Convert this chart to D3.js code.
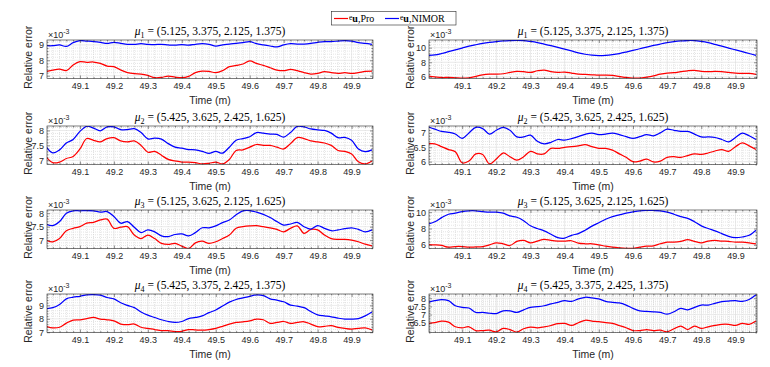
<!DOCTYPE html>
<html>
<head>
<meta charset="utf-8">
<script src="https://cdn.jsdelivr.net/npm/d3@7"></script>
<style>
  body { margin: 0; background: #fff; }
  svg { display: block; font-family: "Liberation Sans", Arial, sans-serif; }
</style>
</head>
<body>
<div id="chart"></div>
<script>
// asse dei tempi (m)
const time = [49.00, 49.02, 49.04, 49.06, 49.08, 49.10, 49.12, 49.14, 49.16, 49.18,
  49.20, 49.22, 49.24, 49.26, 49.28, 49.30, 49.32, 49.34, 49.36, 49.38,
  49.40, 49.42, 49.44, 49.46, 49.48, 49.50, 49.52, 49.54, 49.56, 49.58,
  49.60, 49.62, 49.64, 49.66, 49.68, 49.70, 49.72, 49.74, 49.76, 49.78,
  49.80, 49.82, 49.84, 49.86, 49.88, 49.90, 49.92, 49.94, 49.96];

const xTicks = [49.1, 49.2, 49.3, 49.4, 49.5, 49.6, 49.7, 49.8, 49.9];
const xLimits = [49.003, 49.963];

// parametri mu
const muValues = ["(5.125, 3.375, 2.125, 1.375)", "(5.425, 3.625, 2.425, 1.625)",
  "(5.125, 3.625, 2.125, 1.625)", "(5.425, 3.375, 2.425, 1.375)"];

// colonna sinistra (errori x 1e-3)
const proA1 = [7.26,7.37,7.43,7.33,7.7,7.91,7.87,7.89,7.8,7.63,7.59,7.37,7.2,7.13,7.11,7.02,6.87,6.89,6.98,6.91,6.87,6.96,7.2,7.3,7.28,7.2,7.33,7.59,7.67,7.76,7.96,7.8,7.67,7.52,7.37,7.33,7.41,7.33,7.2,7.11,7.15,7.26,7.2,7.15,7.2,7.15,7.2,7.28,7.3];
const nimorA1 = [8.95,8.95,9.0,8.9,9.15,9.28,9.25,9.22,9.17,9.1,9.17,9.1,9.04,9.04,9.08,9.04,9.02,9.04,9.0,8.98,9.02,8.98,9.04,9.08,9.04,8.93,9.0,9.06,9.1,9.15,9.22,9.08,9.0,8.93,8.87,9.0,9.08,9.06,9.06,9.1,9.17,9.22,9.22,9.25,9.28,9.25,9.15,9.1,9.04];
const proA2 = [7.12,6.92,6.94,7.06,7.13,7.38,7.73,7.67,7.62,7.73,7.76,7.65,7.62,7.65,7.5,7.27,7.3,7.17,7.03,6.98,6.94,6.94,6.92,6.88,6.9,6.94,6.88,7.03,7.33,7.35,7.44,7.53,7.5,7.5,7.44,7.38,7.56,7.76,7.73,7.65,7.62,7.58,7.5,7.33,7.3,7.21,6.95,6.88,6.98];
const nimorA2 = [7.47,7.25,7.35,7.58,7.7,7.97,8.14,8.08,7.99,8.12,8.12,8.03,8.03,8.06,7.93,7.72,7.74,7.71,7.56,7.44,7.41,7.36,7.35,7.3,7.23,7.3,7.24,7.44,7.67,7.73,7.79,7.93,7.91,7.88,7.87,7.78,7.93,8.14,8.12,8.05,8.02,8.0,7.91,7.76,7.77,7.67,7.38,7.29,7.35];
const proA3 = [7.0,6.94,7.06,7.35,7.44,7.5,7.63,7.66,7.75,7.78,7.44,7.48,7.5,7.19,7.06,7.19,7.06,6.88,6.84,6.88,6.78,6.69,6.9,6.96,6.88,6.94,7.06,7.19,7.44,7.5,7.53,7.54,7.5,7.46,7.4,7.31,7.44,7.53,7.25,7.4,7.38,7.19,7.06,7.03,7.03,7.0,6.94,6.85,6.79];
const nimorA3 = [7.59,7.54,7.69,8.0,8.09,8.09,8.1,8.09,8.04,8.06,7.88,7.63,7.69,7.48,7.28,7.38,7.31,7.16,7.13,7.21,7.23,7.16,7.28,7.46,7.46,7.53,7.65,7.75,7.94,8.09,8.1,8.04,7.96,7.84,7.69,7.56,7.6,7.66,7.5,7.41,7.54,7.44,7.35,7.38,7.43,7.46,7.4,7.31,7.38];
const proA4 = [7.44,7.32,7.37,7.68,7.9,7.93,8.02,8.1,7.98,7.93,7.85,7.61,7.56,7.61,7.37,7.29,7.2,7.12,7.12,7.05,7.07,7.2,7.17,7.15,7.2,7.29,7.44,7.61,7.73,7.78,7.85,7.98,7.93,7.66,7.73,7.8,7.66,7.73,7.78,7.61,7.41,7.44,7.49,7.37,7.29,7.24,7.29,7.32,7.17];
const nimorA4 = [8.76,8.83,9.07,9.49,9.61,9.68,9.78,9.8,9.76,9.59,9.49,9.2,9.0,8.83,8.51,8.27,8.1,7.93,7.8,7.73,7.8,8.02,8.1,8.22,8.46,8.66,8.95,9.24,9.44,9.56,9.68,9.78,9.73,9.49,9.39,9.27,9.02,8.95,8.83,8.54,8.29,8.22,8.15,8.05,7.98,7.98,8.02,8.22,8.51];

// colonna destra
const proB1 = [6.11,6.01,5.92,5.92,5.88,5.83,5.88,6.06,6.29,6.38,6.38,6.43,6.61,6.75,6.71,6.61,6.84,6.94,6.71,6.61,6.66,6.52,6.38,6.34,6.29,6.24,6.24,6.2,6.06,5.92,5.83,5.83,5.97,6.15,6.38,6.52,6.57,6.71,6.84,6.89,6.75,6.71,6.75,6.71,6.61,6.52,6.47,6.47,6.34];
const nimorB1 = [8.95,9.0,9.2,9.45,9.7,9.95,10.2,10.4,10.58,10.72,10.83,10.92,10.97,11.0,10.97,10.85,10.7,10.5,10.28,10.05,9.8,9.55,9.3,9.1,8.97,8.92,8.95,9.05,9.2,9.4,9.62,9.85,10.08,10.3,10.5,10.68,10.82,10.92,10.98,10.97,10.85,10.68,10.45,10.2,9.95,9.7,9.45,9.2,8.95];
const proB2 = [6.62,6.62,6.52,6.42,6.34,5.96,6.02,6.27,6.25,5.92,6.09,6.3,6.17,6.05,6.17,6.36,6.27,6.27,6.46,6.46,6.5,6.52,6.55,6.59,6.52,6.46,6.46,6.4,6.27,6.15,6.0,6.02,6.09,5.99,6.02,6.15,6.17,6.15,6.21,6.27,6.25,6.3,6.37,6.42,6.36,6.52,6.65,6.55,6.42];
const nimorB2 = [7.21,7.13,7.05,7.02,6.96,6.81,7.0,7.19,7.15,6.96,7.09,7.19,7.09,6.86,6.86,6.92,6.71,6.62,6.67,6.77,6.75,6.8,6.87,6.95,6.99,6.94,6.96,6.99,6.94,6.87,6.81,6.87,6.94,6.9,7.0,7.13,7.09,7.05,7.05,6.96,6.86,6.86,6.84,6.77,6.69,6.84,6.99,6.9,6.77];
const proB3 = [6.04,6.0,5.92,5.71,5.79,5.79,5.71,5.75,5.79,6.0,6.25,6.13,5.92,6.42,6.54,6.25,6.46,6.67,6.54,6.46,6.46,6.5,6.21,6.13,6.13,6.0,5.83,5.71,5.63,5.58,5.58,5.71,5.83,5.88,6.13,6.33,6.33,6.42,6.63,6.42,6.25,6.46,6.54,6.46,6.42,6.33,6.33,6.25,6.13];
const nimorB3 = [8.54,8.83,9.33,9.75,9.88,10.08,10.17,10.17,10.08,10.0,10.0,9.88,9.54,9.38,8.96,8.33,8.0,7.71,7.29,6.88,6.83,7.17,7.38,7.79,8.29,8.71,9.13,9.46,9.67,9.88,10.04,10.17,10.21,10.21,10.17,10.0,9.75,9.46,9.25,8.83,8.33,8.0,7.71,7.38,7.04,6.88,6.96,7.17,7.79];
const proB4 = [6.46,6.5,6.6,6.54,6.25,6.19,6.25,6.02,6.02,6.04,5.94,6.15,6.08,5.92,6.13,6.23,6.19,6.25,6.33,6.44,6.46,6.33,6.5,6.65,6.6,6.56,6.5,6.46,6.33,6.19,6.02,6.02,6.08,6.02,6.04,5.94,6.13,6.29,6.08,6.29,6.15,6.25,6.33,6.4,6.4,6.33,6.46,6.4,6.6];
const nimorB4 = [7.75,7.85,7.92,7.85,7.54,7.44,7.4,7.13,7.13,7.08,7.06,7.23,7.23,7.13,7.29,7.44,7.48,7.54,7.65,7.75,7.85,7.81,7.96,8.06,8.02,7.96,7.81,7.75,7.71,7.58,7.38,7.23,7.19,7.17,7.13,7.02,7.17,7.38,7.29,7.44,7.58,7.58,7.69,7.79,7.83,7.85,7.81,7.92,8.21];

// limiti e tick dell'asse y (ordine: riga per riga, sinistra poi destra)
const yLimits = [[6.82, 9.32], [5.78, 11.05], [6.86, 8.15], [5.9, 7.24],
  [6.69, 8.12], [5.55, 10.27], [6.98, 9.85], [5.9, 8.26]];
const yTicks = [[7, 8, 9], [6, 8, 10], [7, 7.5, 8], [6, 6.5, 7],
  [7, 7.5, 8], [6, 8, 10], [7, 8, 9], [6.5, 7, 7.5, 8]];

const seriesPro = [proA1, proB1, proA2, proB2, proA3, proB3, proA4, proB4];
const seriesNimor = [nimorA1, nimorB1, nimorA2, nimorB2, nimorA3, nimorB3, nimorA4, nimorB4];

// layout
const cols = [[47, 373], [429, 757]];
const rows = [40, 126, 210, 294];
const ph = 38.5;
const axisColor = "#262626";

const svg = d3.select("#chart").append("svg")
  .attr("width", 770).attr("height", 367);

seriesPro.forEach((pro, i) => {
  const [x0, x1] = cols[i % 2];
  const row = Math.floor(i / 2);
  const w = x1 - x0;
  const g = svg.append("g").attr("transform", `translate(${x0},${rows[row]})`);

  const x = d3.scaleLinear().domain(xLimits).range([0, w]);
  const y = d3.scaleLinear().domain(yLimits[i]).range([ph, 0]);

  // griglia minore
  const xMinor = d3.range(49.02, 49.97, 0.02).filter(v => !xTicks.some(t => Math.abs(t - v) < 1e-6));
  const yStep = (yTicks[i][1] - yTicks[i][0]) / 5;
  const yMinor = d3.range(Math.ceil(yLimits[i][0] / yStep) * yStep, yLimits[i][1], yStep)
    .filter(v => !yTicks[i].some(t => Math.abs(t - v) < 1e-6));

  g.append("g").selectAll("line").data(xMinor).join("line")
    .attr("x1", d => x(d)).attr("x2", d => x(d)).attr("y1", 0).attr("y2", ph)
    .attr("stroke", "#c8c8c8").attr("stroke-width", 0.5).attr("stroke-dasharray", "1,1");
  g.append("g").selectAll("line").data(yMinor).join("line")
    .attr("x1", 0).attr("x2", w).attr("y1", d => y(d)).attr("y2", d => y(d))
    .attr("stroke", "#c8c8c8").attr("stroke-width", 0.5).attr("stroke-dasharray", "1,1");

  // griglia principale
  g.append("g").selectAll("line").data(xTicks).join("line")
    .attr("x1", d => x(d)).attr("x2", d => x(d)).attr("y1", 0).attr("y2", ph)
    .attr("stroke", "#dcdcdc").attr("stroke-width", 0.6);
  g.append("g").selectAll("line").data(yTicks[i]).join("line")
    .attr("x1", 0).attr("x2", w).attr("y1", d => y(d)).attr("y2", d => y(d))
    .attr("stroke", "#dcdcdc").attr("stroke-width", 0.6);

  // linee
  const clipId = "clip" + i;
  g.append("clipPath").attr("id", clipId).append("rect")
    .attr("width", w).attr("height", ph);

  const line = d3.line()
    .x((d, j) => x(time[j]))
    .y(d => y(d))
    .curve(d3.curveCatmullRom.alpha(0.5));

  g.append("path").datum(pro)
    .attr("clip-path", `url(#${clipId})`)
    .attr("fill", "none").attr("stroke", "#ff0000").attr("stroke-width", 1.25)
    .attr("d", line);
  g.append("path").datum(seriesNimor[i])
    .attr("clip-path", `url(#${clipId})`)
    .attr("fill", "none").attr("stroke", "#0000ff").attr("stroke-width", 1.25)
    .attr("d", line);

  // assi (tick verso l'interno)
  g.append("g").attr("transform", `translate(0,${ph})`)
    .call(d3.axisBottom(x).tickValues(xTicks).tickSizeInner(-3).tickSizeOuter(0).tickPadding(4));
  g.append("g")
    .call(d3.axisLeft(y).tickValues(yTicks[i]).tickFormat(d3.format("~g")).tickSizeInner(-3).tickSizeOuter(0).tickPadding(3));
  g.append("g").call(d3.axisTop(x).tickValues(xTicks).tickSizeInner(-3).tickSizeOuter(0).tickFormat(""));
  g.append("g").attr("transform", `translate(${w},0)`)
    .call(d3.axisRight(y).tickValues(yTicks[i]).tickSizeInner(-3).tickSizeOuter(0).tickFormat(""));
  // tick minori
  g.append("g").attr("transform", `translate(0,${ph})`)
    .call(d3.axisBottom(x).tickValues(xMinor).tickSizeInner(-1.5).tickSizeOuter(0).tickFormat(""));
  g.append("g").call(d3.axisTop(x).tickValues(xMinor).tickSizeInner(-1.5).tickSizeOuter(0).tickFormat(""));
  g.append("g").call(d3.axisLeft(y).tickValues(yMinor).tickSizeInner(-1.5).tickSizeOuter(0).tickFormat(""));
  g.append("g").attr("transform", `translate(${w},0)`)
    .call(d3.axisRight(y).tickValues(yMinor).tickSizeInner(-1.5).tickSizeOuter(0).tickFormat(""));

  g.selectAll(".domain").remove();
  g.selectAll(".tick line").attr("stroke", axisColor).attr("stroke-width", 0.5);
  g.selectAll(".tick text").attr("fill", axisColor).attr("font-size", 9)
    .attr("font-family", "Liberation Sans, Arial, sans-serif");

  // riquadro
  g.append("rect").attr("width", w).attr("height", ph)
    .attr("fill", "none").attr("stroke", axisColor).attr("stroke-width", 0.6);

  // etichette
  g.append("text").attr("x", w / 2).attr("y", ph + 25.5)
    .attr("text-anchor", "middle").attr("font-size", 10.5).attr("fill", axisColor)
    .text("Time (m)");
  g.append("text")
    .attr("transform", `translate(-15,${ph / 2 - 2}) rotate(-90)`)
    .attr("text-anchor", "middle").attr("font-size", 10.5).attr("fill", axisColor)
    .text("Relative error");

  // moltiplicatore
  const mult = g.append("text").attr("x", 1).attr("y", -1.7)
    .attr("font-size", 9).attr("fill", axisColor);
  mult.append("tspan").text("×10");
  mult.append("tspan").attr("dy", -4).attr("font-size", 7).text("-3");

  // titolo
  const title = g.append("text").attr("x", w / 2).attr("y", -5)
    .attr("text-anchor", "middle").attr("font-size", 11.5)
    .attr("font-family", "Liberation Serif, serif").attr("fill", "#000");
  title.append("tspan").attr("font-style", "italic").text("μ");
  title.append("tspan").attr("font-size", 8).attr("dy", 2.5).text(row + 1);
  title.append("tspan").attr("dy", -2.5).text(" = " + muValues[row]);
});

// legenda
const legend = svg.append("g").attr("font-family", "Liberation Serif, serif").attr("font-size", 10);
legend.append("rect").attr("x", 331.5).attr("y", 11.5).attr("width", 124.5).attr("height", 13.5)
  .attr("fill", "#fff").attr("stroke", axisColor).attr("stroke-width", 0.6);

const legendItems = [
  { label: ",Pro", color: "#ff0000", x: 334 },
  { label: ",NIMOR", color: "#0000ff", x: 385 }
];
legendItems.forEach(item => {
  legend.append("line").attr("x1", item.x).attr("x2", item.x + 14)
    .attr("y1", 18.5).attr("y2", 18.5).attr("stroke", item.color).attr("stroke-width", 1.2);
  const t = legend.append("text").attr("x", item.x + 15).attr("y", 22).attr("fill", "#000");
  t.append("tspan").attr("font-size", 7.5).attr("dy", -2).text("e");
  t.append("tspan").attr("dy", 2).attr("font-weight", "bold").text("u");
  t.append("tspan").text(item.label);
});
</script>
</body>
</html>
